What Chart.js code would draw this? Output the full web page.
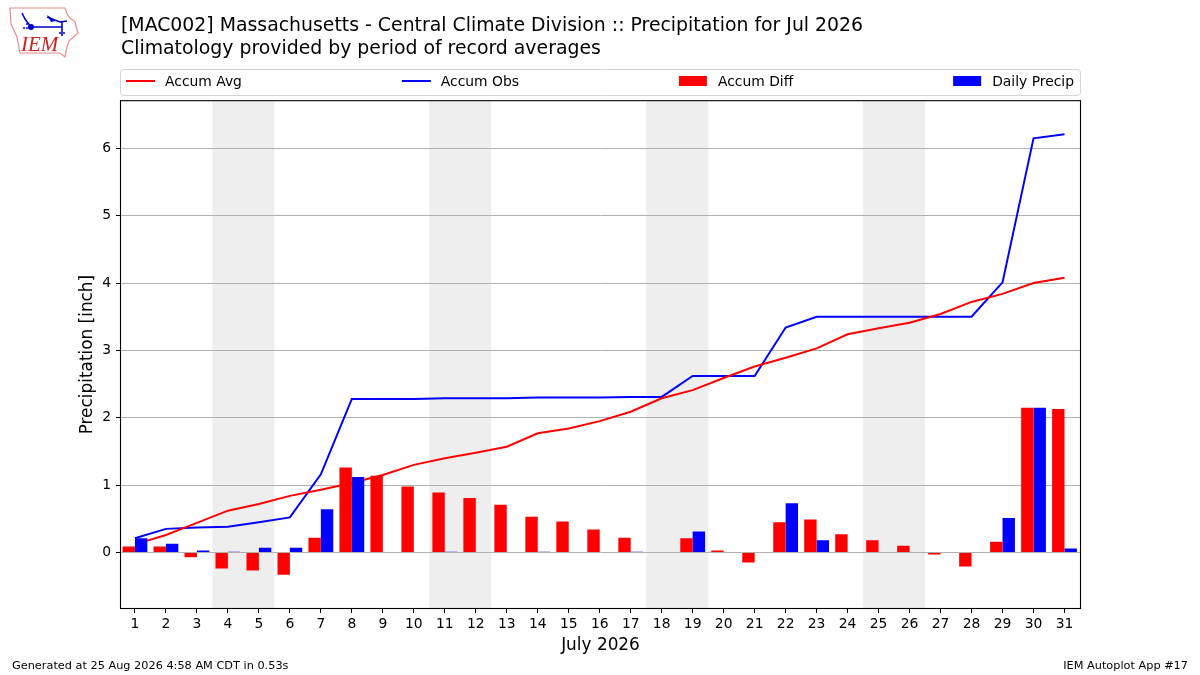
<!DOCTYPE html>
<html>
<head>
<meta charset="utf-8">
<title>MAC002 Precipitation Jul 2026</title>
<script src="https://cdn.jsdelivr.net/npm/chart.js@4"></script>
<style>
    html, body { margin: 0; padding: 0; background: #fff; }
    #wrap { position: relative; width: 1200px; height: 675px; overflow: hidden; }
    #myChart { position: absolute; left: 0; top: 0; }
    #logo { position: absolute; left: 0; top: 0; }
    .foot { position: absolute; top: 659px; font: 11.3px "DejaVu Sans"; color: #000; white-space: nowrap; }
</style>
</head>
<body>
<div id="wrap">
    <canvas id="myChart" width="1200" height="675"></canvas>
    <svg id="logo" width="90" height="62" viewBox="0 0 90 62">
        <path d="M10 8 L65 8 L68 16 L75 22 L78 33 L69 41 L67 47 L65 57 L60 53 L20 53 L17 37 L11 24 Z" fill="#fff" stroke="#e88" stroke-width="1.2"/>
        <path d="M31 27 L62 27 M22 13 L25 19 L31 27 M62 21 L62 36 M47 17 L60 22 L67 21" fill="none" stroke="#00c" stroke-width="1.6"/>
        <circle cx="31" cy="27" r="3" fill="#00c"/>
        <path d="M47 15 L56 21 L51 22 Z" fill="#00c"/>
        <circle cx="24" cy="28" r="1" fill="#00c"/><circle cx="27" cy="24" r="1" fill="#00c"/><circle cx="27" cy="28" r="1" fill="#00c"/>
        <circle cx="60" cy="33" r="1" fill="#00c"/><circle cx="64" cy="33" r="1" fill="#00c"/>
        <text x="21" y="51" font-family="Liberation Serif" font-style="italic" font-size="21" fill="#c22">IEM</text>
    </svg>
    <div class="foot" style="left:12px">Generated at 25 Aug 2026 4:58 AM CDT in 0.53s</div>
    <div class="foot" style="right:12px">IEM Autoplot App #17</div>
</div>
<script>
// valores
const dias = [1,2,3,4,5,6,7,8,9,10,11,12,13,14,15,16,17,18,19,20,21,22,23,24,25,26,27,28,29,30,31];
const accumAvg = [0.12,0.26,0.44,0.62,0.72,0.84,0.93,1.03,1.15,1.30,1.40,1.48,1.57,1.77,1.84,1.95,2.09,2.29,2.41,2.59,2.76,2.89,3.03,3.24,3.33,3.41,3.54,3.72,3.84,4.00,4.08];
const accumObs = [0.21,0.35,0.37,0.38,0.45,0.52,1.16,2.28,2.28,2.28,2.29,2.29,2.29,2.30,2.30,2.30,2.31,2.31,2.62,2.62,2.62,3.34,3.50,3.50,3.50,3.50,3.50,3.50,4.01,6.15,6.21];
const accumDiff = [0.09,0.09,-0.07,-0.24,-0.27,-0.33,0.22,1.26,1.14,0.98,0.89,0.81,0.71,0.53,0.46,0.34,0.22,0,0.21,0.03,-0.15,0.45,0.49,0.27,0.18,0.10,-0.03,-0.21,0.16,2.15,2.13];
const dailyPrecip = [0.21,0.13,0.03,0.01,0.07,0.07,0.64,1.12,0,0,0.01,0,0,0.01,0,0,0.01,0,0.31,0,0,0.73,0.18,0,0,0,0,0,0.51,2.15,0.06];
const fimDeSemana = [[4,5],[11,12],[18,19],[25,26]];
const yTicks = [0,1,2,3,4,5,6];
const titulo = ['[MAC002] Massachusetts - Central Climate Division :: Precipitation for Jul 2026', 'Climatology provided by period of record averages'];

const fonte = 'DejaVu Sans';
Chart.defaults.font.family = fonte;
Chart.defaults.color = '#000';

function pontos(valores) {
    return dias.map((d, i) => ({ x: d, y: valores[i] }));
}

// faixas cinzas do fim de semana, atras do grid
const faixas = {
    id: 'faixas',
    beforeDraw(chart) {
        const { ctx, chartArea, scales } = chart;
        ctx.save();
        ctx.fillStyle = '#eeeeee';
        fimDeSemana.forEach(f => {
            const x0 = scales.x.getPixelForValue(f[0] - 0.5);
            const x1 = scales.x.getPixelForValue(f[1] + 0.5);
            ctx.fillRect(x0, chartArea.top, x1 - x0, chartArea.height);
        });
        ctx.restore();
    }
};

// moldura do grafico e legenda em caixa unica, estilo matplotlib
const moldura = {
    id: 'moldura',
    afterDraw(chart) {
        const { ctx, chartArea } = chart;
        ctx.save();
        ctx.strokeStyle = '#000';
        ctx.lineWidth = 1.1;
        ctx.strokeRect(chartArea.left - 0.5, chartArea.top - 0.5, chartArea.width + 1, chartArea.height + 1);

        ctx.strokeStyle = '#d4d4d4';
        ctx.lineWidth = 1;
        ctx.beginPath();
        ctx.roundRect(120.5, 69.5, 960, 26, 3);
        ctx.stroke();

        ctx.font = '13.89px "' + fonte + '"';
        ctx.textBaseline = 'middle';
        ctx.textAlign = 'left';
        const conjuntos = chart.data.datasets;
        const larguras = conjuntos.map(d => 39 + ctx.measureText(d.label).width);
        const soma = larguras.reduce((a, b) => a + b, 0);
        const vao = (948 - soma) / (conjuntos.length - 1);
        let x = 126;
        conjuntos.forEach((d, i) => {
            if (d.type === 'line') {
                ctx.fillStyle = d.borderColor;
                ctx.fillRect(x, 80, 29, 2);
            } else {
                ctx.fillStyle = d.backgroundColor;
                ctx.fillRect(x, 76, 28, 10);
            }
            ctx.fillStyle = '#000';
            ctx.fillText(d.label, x + 39, 82);
            x += larguras[i] + vao;
        });
        ctx.restore();
    }
};

const ctx = document.getElementById('myChart');

new Chart(ctx, {
    type: 'bar',
    data: {
        datasets: [
            { type: 'line', label: 'Accum Avg', data: pontos(accumAvg), borderColor: '#ff0000', borderWidth: 2, pointRadius: 0, tension: 0, order: 2 },
            { type: 'line', label: 'Accum Obs', data: pontos(accumObs), borderColor: '#0000ff', borderWidth: 2, pointRadius: 0, tension: 0, order: 2 },
            { type: 'bar', label: 'Accum Diff', data: pontos(accumDiff), backgroundColor: '#ff0000', categoryPercentage: 0.8, barPercentage: 1, order: 1 },
            { type: 'bar', label: 'Daily Precip', data: pontos(dailyPrecip), backgroundColor: '#0000ff', categoryPercentage: 0.8, barPercentage: 1, order: 1 }
        ]
    },
    options: {
        responsive: false,
        animation: false,
        devicePixelRatio: 1,
        layout: { padding: { left: 0, right: 120, top: 0, bottom: 0 } },
        plugins: {
            legend: { display: false },
            tooltip: { enabled: false },
            title: {
                display: true,
                text: titulo,
                align: 'start',
                fullSize: false,
                color: '#000',
                font: { size: 18.87, weight: 'normal', lineHeight: 1.25 },
                padding: { top: 14, bottom: 40 }
            }
        },
        scales: {
            x: {
                type: 'linear',
                offset: false,
                min: 0.55,
                max: 31.5,
                afterFit(scale) { scale.height = 67; },
                afterBuildTicks(scale) { scale.ticks = dias.map(d => ({ value: d })); },
                ticks: { autoSkip: false, maxRotation: 0, color: '#000', font: { size: 13.89 }, padding: 3 },
                grid: { offset: false, drawOnChartArea: false, drawTicks: true, tickColor: '#000', tickLength: 5, tickWidth: 1 },
                border: { display: false },
                title: { display: true, text: 'July 2026', color: '#000', font: { size: 16.9 }, padding: { top: 0, bottom: 19 } }
            },
            y: {
                min: -0.825,
                max: 6.701,
                afterFit(scale) { scale.width = 121; },
                afterBuildTicks(scale) { scale.ticks = yTicks.map(v => ({ value: v })); },
                ticks: { color: '#000', font: { size: 13.89 }, padding: 5 },
                grid: { color: '#b0b0b0', lineWidth: 1, drawTicks: true, tickColor: '#000', tickLength: 5, tickWidth: 1 },
                border: { display: false },
                title: { display: true, text: 'Precipitation [inch]', color: '#000', font: { size: 16.9 }, padding: { top: 77, bottom: 0 } }
            }
        }
    },
    plugins: [faixas, moldura]
});
</script>
</body>
</html>
